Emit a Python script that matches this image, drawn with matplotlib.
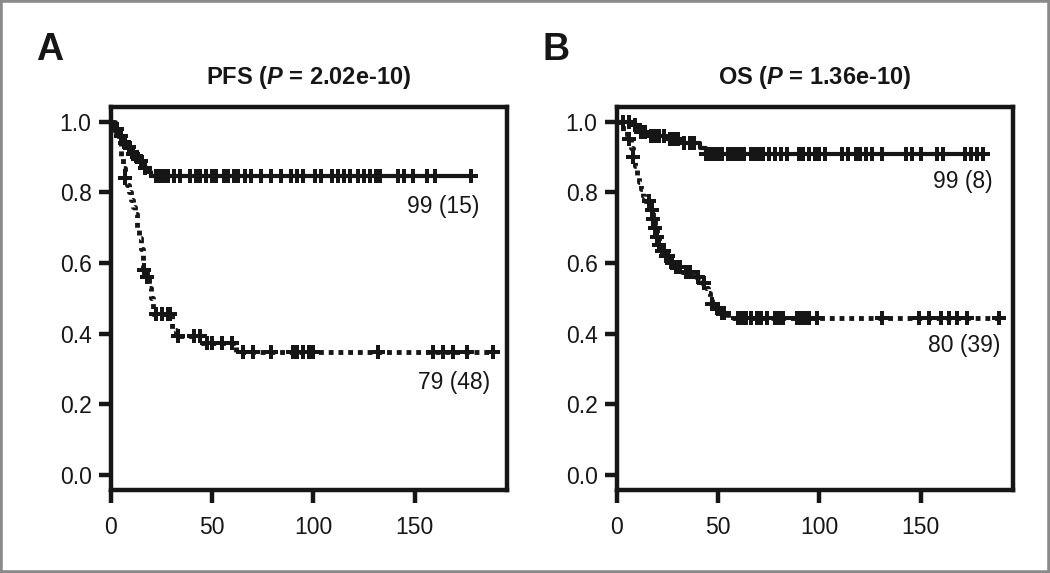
import numpy as np
import matplotlib
matplotlib.use("Agg")
import matplotlib.pyplot as plt
from matplotlib.patches import Rectangle

plt.rcParams['font.family'] = ['Liberation Sans', 'DejaVu Sans']
plt.rcParams['mathtext.fontset'] = 'custom'
plt.rcParams['mathtext.rm'] = 'Liberation Sans:bold'
plt.rcParams['mathtext.bf'] = 'Liberation Sans:bold'
plt.rcParams['mathtext.it'] = 'Liberation Sans:bold:italic'

# === DATA ===
# Panel A - PFS, high group (solid)
pfs_hi_t = [0, 1, 2, 3.5, 4.5, 5.5, 7, 8, 9.5, 11, 12.5, 14, 15.5, 17, 18.5, 20]
pfs_hi_s = [1.0, 0.99, 0.98, 0.97, 0.96, 0.95, 0.94, 0.93, 0.92, 0.91, 0.90, 0.89, 0.88, 0.87, 0.858, 0.846]
pfs_hi_cens = [3, 5, 7, 9, 11, 13, 15, 17, 22, 24, 26, 28, 31, 34, 39, 42, 44, 47, 50, 52,
               56, 58, 61, 63, 66, 69, 74, 79, 84, 89, 92, 95, 101, 104, 109, 112, 115, 118,
               122, 125, 128, 131, 133, 142, 145, 149, 156, 160, 178]
# Panel A - PFS, low group (dotted)
pfs_lo_t = [0, 2, 4, 5, 6, 7, 8, 9, 10, 11, 12, 13, 14, 15, 16, 18, 19, 20, 21, 30, 32, 45, 62]
pfs_lo_s = [1.0, 0.975, 0.95, 0.90, 0.87, 0.84, 0.82, 0.80, 0.78, 0.76, 0.74, 0.70, 0.67, 0.64,
            0.58, 0.56, 0.53, 0.50, 0.455, 0.41, 0.395, 0.375, 0.348]
pfs_lo_cens = [7, 16.5, 18, 22, 25, 28, 29, 33, 41, 44, 47.5, 50, 55, 60, 65, 70, 79, 90,
               92, 95, 98, 100, 132, 159, 164, 169, 176, 189]

# Panel B - OS, high group (solid)
os_hi_t = [0, 8, 11, 12, 16, 24, 32, 41, 44]
os_hi_s = [1.0, 0.99, 0.98, 0.97, 0.96, 0.95, 0.94, 0.925, 0.91]
os_hi_cens = [3, 6, 9, 12, 14, 17, 19, 21, 23, 26, 28, 30, 33, 36, 38, 44, 46, 48, 50, 52,
              55, 57, 59, 61, 63, 66, 68, 70, 72, 75, 78, 81, 84, 90, 92, 95, 98, 100, 103,
              111, 114, 118, 120, 123, 126, 131, 143, 146, 150, 158, 161, 172, 175, 178, 181]
# Panel B - OS, low group (dotted)
os_lo_t = [0, 3, 5, 7, 8, 9, 10, 11, 12, 13, 14, 17, 18, 19, 20, 21, 22, 24, 26, 28, 32,
           39, 42, 44, 45, 46, 47, 49, 51, 55]
os_lo_s = [1.0, 0.975, 0.95, 0.925, 0.90, 0.875, 0.85, 0.83, 0.81, 0.79, 0.775, 0.75, 0.725,
           0.70, 0.675, 0.65, 0.635, 0.62, 0.60, 0.59, 0.575, 0.56, 0.545, 0.53, 0.515, 0.50,
           0.485, 0.47, 0.46, 0.445]
os_lo_cens = [6, 8, 16, 17.5, 18, 19, 20, 21, 22, 23, 24, 25, 27, 29, 31, 34, 36, 40, 43,
              47, 50, 52, 53, 60, 62, 64, 66, 69, 71, 74, 78, 80, 82, 89, 91, 93, 95, 99,
              131, 149, 154, 160, 164, 168, 173, 189]

panels = [
    dict(letter="A", title=r"PFS ($\mathit{P}$ = 2.02e-10)",
         hi=(pfs_hi_t, pfs_hi_s, pfs_hi_cens), lo=(pfs_lo_t, pfs_lo_s, pfs_lo_cens),
         hi_label=("99 (15)", 182, 0.76), lo_label=("79 (48)", 187.5, 0.263)),
    dict(letter="B", title=r"OS ($\mathit{P}$ = 1.36e-10)",
         hi=(os_hi_t, os_hi_s, os_hi_cens), lo=(os_lo_t, os_lo_s, os_lo_cens),
         hi_label=("99 (8)", 185.5, 0.83), lo_label=("80 (39)", 189.5, 0.368)),
]

INK = "#161616"


def km_curve(ax, t, s, cens, ls, lw):
    t = np.asarray(t, float)
    s = np.asarray(s, float)
    cens = np.asarray(cens, float)
    tt = np.append(t, cens.max())
    ss = np.append(s, s[-1])
    ax.step(tt, ss, where="post", color=INK, lw=lw, linestyle=ls,
            solid_capstyle="butt", dash_capstyle="butt", zorder=2)
    idx = np.searchsorted(t, cens, side="right") - 1
    ax.plot(cens, s[idx], linestyle="none", marker="P", ms=9.5, mew=0,
            color=INK, zorder=3)


# === PLOT ===
fig = plt.figure(figsize=(10.5, 5.73), dpi=100)
lefts = [0.1057, 0.5876]
for left, p in zip(lefts, panels):
    ax = fig.add_axes([left, 0.1449, 0.3768, 0.6684])
    km_curve(ax, *p["hi"], ls="-", lw=3.0)
    km_curve(ax, *p["lo"], ls=(0, (1.0, 1.0)), lw=3.5)

    ax.set_xlim(0, 195.5)
    ax.set_ylim(-0.042, 1.042)
    ax.set_xticks([0, 50, 100, 150])
    ax.set_yticks([0.0, 0.2, 0.4, 0.6, 0.8, 1.0])
    ax.set_yticklabels(["0.0", "0.2", "0.4", "0.6", "0.8", "1.0"])
    for sp in ax.spines.values():
        sp.set_linewidth(3.2)
        sp.set_color(INK)
    ax.tick_params(axis="both", direction="out", length=9, width=3.2, color=INK,
                   labelsize=16.5, labelcolor=INK)
    ax.tick_params(axis="y", pad=5)
    ax.tick_params(axis="x", pad=10)

    txt, x, y = p["hi_label"]
    ax.text(x, y, txt, ha="right", va="center", fontsize=16.5, color=INK)
    txt, x, y = p["lo_label"]
    ax.text(x, y, txt, ha="right", va="center", fontsize=16.5, color=INK)

    ax.text(0.5, 1.078, p["title"], transform=ax.transAxes, ha="center", va="center",
            fontsize=17, fontweight="bold", color=INK)
    fig.text(left - 0.058, 0.9127, p["letter"], ha="center", va="center",
             fontsize=27, fontweight="bold", color=INK)

# gray frame around the figure
fig.patches.append(Rectangle((0, 0), 1, 1, transform=fig.transFigure, fill=False,
                             edgecolor="#8a8a8a", lw=4, zorder=10))

plt.savefig("out.png", dpi=100)
